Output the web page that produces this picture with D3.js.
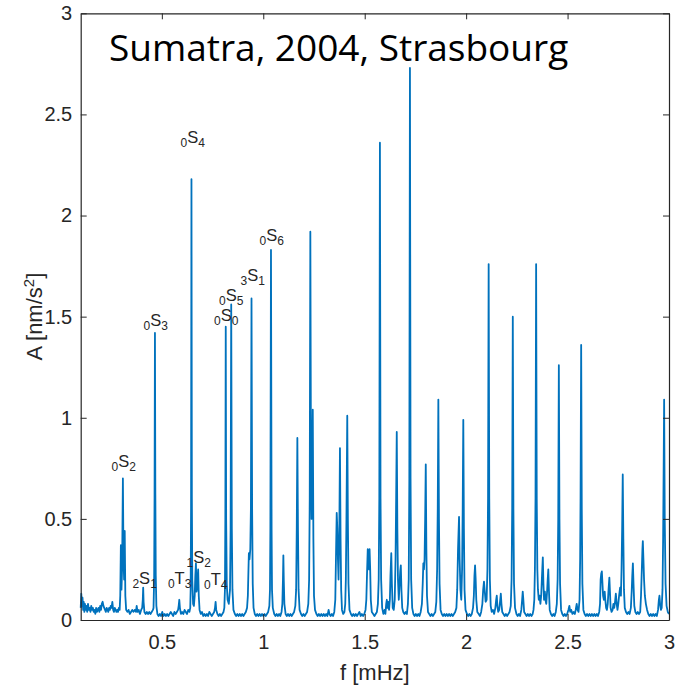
<!DOCTYPE html>
<html>
<head>
<meta charset="utf-8">
<script src="https://cdn.jsdelivr.net/npm/d3@7"></script>
<style>
  html, body { margin: 0; padding: 0; background: #ffffff; }
  svg { display: block; }
</style>
</head>
<body>
<svg id="chart" width="675" height="685"></svg>
<script>
// ---------- DATA ----------
const titleText = "Sumatra, 2004, Strasbourg";
const xLabel = "f [mHz]";
const xDomain = [0.1, 3];
const yDomain = [0, 3];
const xTicks = [0.5, 1, 1.5, 2, 2.5, 3];
const xTickLabels = ["0.5", "1", "1.5", "2", "2.5", "3"];
const yTicks = [0, 0.5, 1, 1.5, 2, 2.5, 3];
const yTickLabels = ["0", "0.5", "1", "1.5", "2", "2.5", "3"];

// spectrum: [frequency mHz, amplitude nm/s^2]
const spectrumLow = [
  [0.100,0.06],[0.103,0.13],[0.106,0.07],[0.109,0.11],[0.112,0.05],[0.115,0.09],[0.118,0.04],[0.121,0.08],
  [0.124,0.05],[0.128,0.07],[0.132,0.04],[0.136,0.08],[0.140,0.05],[0.144,0.06],[0.148,0.04],[0.152,0.07],
  [0.156,0.05],[0.160,0.06],[0.164,0.04],[0.168,0.05],[0.172,0.03],[0.176,0.06],[0.180,0.04],[0.184,0.05],
  [0.188,0.06],[0.192,0.04],[0.196,0.07],[0.200,0.05],[0.204,0.08],[0.208,0.09],[0.212,0.07],[0.216,0.06],
  [0.220,0.05],[0.224,0.04],[0.228,0.06],[0.232,0.05],[0.236,0.04],[0.240,0.06],[0.244,0.05],[0.248,0.07],
  [0.252,0.06],[0.256,0.09],[0.260,0.05],[0.264,0.04],[0.268,0.06],[0.272,0.05],[0.276,0.04],[0.280,0.05],
  [0.284,0.04],[0.288,0.06],
  [0.292,0.05],[0.295,0.12],[0.298,0.37],[0.301,0.15],[0.304,0.25],[0.308,0.70],[0.311,0.30],[0.314,0.20],
  [0.317,0.44],[0.320,0.12],[0.324,0.05],
  [0.330,0.04],[0.336,0.05],[0.342,0.03],[0.348,0.04],[0.354,0.05],[0.360,0.04],[0.366,0.05],[0.372,0.04],
  [0.376,0.07],[0.380,0.04],[0.386,0.05],[0.392,0.03],[0.398,0.05],
  [0.403,0.06],[0.406,0.10],[0.408,0.16],[0.410,0.09],[0.414,0.04],[0.420,0.03],[0.426,0.04],[0.432,0.03],
  [0.438,0.04],[0.444,0.03],[0.450,0.04],[0.456,0.05],
  [0.459,0.06],[0.462,0.20],[0.464,0.60],[0.466,1.42],[0.468,0.62],[0.470,0.22],[0.473,0.07],
  [0.478,0.03],[0.484,0.02],[0.490,0.03],[0.496,0.02],[0.502,0.04],[0.508,0.02],[0.514,0.03],[0.520,0.02],
  [0.526,0.03],[0.532,0.02],[0.538,0.03],[0.544,0.04],[0.550,0.03],[0.556,0.02],[0.562,0.04],[0.568,0.03],
  [0.574,0.04],[0.580,0.05],
  [0.583,0.07],[0.586,0.10],[0.589,0.06],[0.594,0.03],[0.600,0.04],[0.606,0.03],[0.612,0.05],[0.618,0.04],
  [0.624,0.03],[0.630,0.05],[0.636,0.04],[0.640,0.06],
  [0.642,0.15],[0.644,0.55],[0.646,2.18],[0.648,0.60],[0.650,0.20],
  [0.654,0.08],[0.658,0.07],[0.662,0.12],[0.665,0.22],[0.668,0.28],[0.671,0.14],[0.674,0.16],[0.677,0.22],
  [0.679,0.25],[0.682,0.12],[0.686,0.05],
  [0.692,0.03],[0.698,0.04],[0.704,0.02],[0.710,0.03],[0.716,0.02],[0.722,0.03],[0.728,0.02],[0.734,0.04],
  [0.740,0.03],[0.746,0.02],[0.752,0.03],[0.758,0.04],
  [0.762,0.06],[0.765,0.09],[0.768,0.05],[0.774,0.03],[0.780,0.02],[0.786,0.03],[0.792,0.02],[0.798,0.03],
  [0.804,0.04],[0.808,0.06],
  [0.811,0.15],[0.813,0.50],[0.815,1.45],[0.817,0.50],[0.820,0.18],[0.824,0.10],
  [0.830,0.08],[0.836,0.15],[0.839,0.45],[0.842,1.56],[0.845,0.45],[0.848,0.15],[0.853,0.05],
  [0.860,0.03],[0.866,0.02],[0.872,0.03],[0.878,0.02],[0.884,0.03],[0.890,0.02],[0.896,0.03],[0.902,0.02],
  [0.908,0.03],[0.914,0.04],[0.920,0.06],
  [0.924,0.12],[0.927,0.25],[0.929,0.33],[0.932,0.30],[0.936,0.35],[0.939,0.55],[0.942,1.59],[0.945,0.55],
  [0.948,0.18],[0.952,0.06],
  [0.958,0.03],[0.964,0.02],[0.970,0.03],[0.976,0.02],[0.982,0.03],[0.988,0.02],[0.994,0.03],[1.000,0.02]
];

const spectrumMid = [
  [1.006,0.03],[1.012,0.02],[1.018,0.03],[1.024,0.04],[1.030,0.07],
  [1.033,0.15],[1.035,0.45],[1.038,1.83],[1.041,0.45],[1.043,0.15],[1.047,0.06],
  [1.054,0.03],[1.060,0.02],[1.066,0.03],[1.072,0.02],[1.078,0.03],[1.084,0.02],[1.090,0.04],
  [1.094,0.08],[1.097,0.20],[1.099,0.32],[1.101,0.20],[1.104,0.08],[1.110,0.03],[1.116,0.02],[1.122,0.03],
  [1.128,0.02],[1.134,0.03],[1.140,0.02],[1.146,0.03],[1.152,0.04],[1.158,0.07],
  [1.162,0.15],[1.165,0.45],[1.168,0.90],[1.171,0.45],[1.174,0.15],[1.179,0.05],
  [1.186,0.03],[1.192,0.02],[1.198,0.03],[1.204,0.02],[1.210,0.03],[1.216,0.04],[1.222,0.08],
  [1.226,0.20],[1.229,0.60],[1.232,1.92],[1.235,0.80],[1.238,0.50],[1.241,0.75],[1.244,1.04],[1.247,0.40],
  [1.250,0.12],[1.255,0.05],
  [1.262,0.03],[1.268,0.02],[1.274,0.03],[1.280,0.02],[1.286,0.03],[1.292,0.02],[1.298,0.03],[1.304,0.02],
  [1.310,0.03],[1.316,0.02],[1.322,0.05],[1.326,0.03],[1.332,0.02],[1.338,0.03],[1.344,0.02],[1.350,0.04],
  [1.355,0.10],[1.359,0.35],[1.362,0.53],[1.365,0.45],[1.368,0.30],[1.371,0.20],[1.375,0.45],[1.378,0.85],
  [1.381,0.40],[1.384,0.15],[1.388,0.05],
  [1.394,0.03],[1.400,0.04],[1.404,0.08],
  [1.407,0.20],[1.410,0.50],[1.414,1.01],[1.417,0.50],[1.420,0.18],[1.425,0.05],
  [1.432,0.03],[1.438,0.02],[1.444,0.03],[1.450,0.02],[1.456,0.03],[1.462,0.02],[1.468,0.03],[1.474,0.04],
  [1.480,0.02],[1.486,0.03],[1.492,0.02],[1.498,0.03],[1.504,0.05],[1.508,0.10],
  [1.512,0.25],[1.515,0.35],[1.518,0.30],[1.521,0.25],[1.524,0.35],[1.527,0.25],[1.530,0.10],[1.535,0.04],
  [1.542,0.03],[1.548,0.02],[1.554,0.03],[1.560,0.04],[1.565,0.08],
  [1.569,0.20],[1.572,0.60],[1.575,2.36],[1.578,0.60],[1.581,0.20],[1.586,0.06],
  [1.592,0.03],[1.598,0.05],[1.602,0.03],[1.606,0.08],[1.609,0.10],[1.612,0.06],[1.616,0.09],[1.620,0.05],
  [1.624,0.10],
  [1.627,0.22],[1.631,0.33],[1.634,0.18],[1.638,0.06],[1.643,0.05],[1.648,0.10],
  [1.652,0.30],[1.655,0.60],[1.658,0.93],[1.661,0.45],[1.664,0.20],[1.668,0.10],[1.672,0.18],[1.675,0.24],
  [1.678,0.27],[1.681,0.15],[1.685,0.06],
  [1.690,0.04],[1.696,0.03],[1.702,0.04],[1.708,0.03],[1.713,0.08],
  [1.717,0.20],[1.720,0.70],[1.723,2.73],[1.726,0.70],[1.729,0.20],[1.734,0.06],
  [1.740,0.03],[1.746,0.02],[1.752,0.03],[1.758,0.02],[1.764,0.03],[1.770,0.02],[1.776,0.04],[1.782,0.08],
  [1.786,0.18],[1.789,0.28],[1.792,0.25],[1.795,0.30],[1.798,0.50],[1.801,0.77],[1.804,0.35],[1.807,0.12],
  [1.812,0.04],
  [1.818,0.03],[1.824,0.02],[1.830,0.03],[1.836,0.02],[1.842,0.03],[1.848,0.04],[1.853,0.09],
  [1.857,0.25],[1.860,0.55],[1.863,1.09],[1.866,0.50],[1.869,0.18],[1.874,0.05],
  [1.880,0.03],[1.886,0.02],[1.892,0.03],[1.898,0.02],[1.904,0.03],[1.910,0.02],[1.916,0.03],[1.922,0.02],
  [1.928,0.03],[1.934,0.02],[1.940,0.03],[1.946,0.04],[1.952,0.06],
  [1.956,0.15],[1.960,0.35],[1.965,0.51],[1.968,0.30],[1.972,0.15],[1.976,0.10],[1.980,0.25],[1.983,0.55],
  [1.986,0.99],[1.989,0.45],[1.992,0.15],[1.997,0.05]
];

const spectrumHigh = [
  [2.004,0.03],[2.010,0.02],[2.016,0.03],[2.022,0.02],[2.028,0.03],[2.034,0.06],
  [2.038,0.12],[2.041,0.22],[2.044,0.27],[2.047,0.20],[2.050,0.10],[2.055,0.04],
  [2.062,0.03],[2.068,0.02],[2.074,0.04],[2.080,0.08],[2.084,0.15],[2.088,0.19],[2.092,0.14],[2.096,0.09],
  [2.101,0.10],[2.105,0.25],[2.108,0.60],[2.111,1.76],[2.114,0.60],[2.117,0.20],[2.121,0.07],
  [2.126,0.04],[2.132,0.05],[2.138,0.03],[2.144,0.06],[2.148,0.10],[2.151,0.12],[2.154,0.07],[2.158,0.04],
  [2.163,0.05],[2.167,0.09],[2.171,0.13],[2.174,0.08],[2.178,0.04],[2.184,0.03],[2.190,0.02],[2.196,0.03],
  [2.202,0.02],[2.208,0.03],[2.214,0.04],[2.220,0.07],
  [2.224,0.20],[2.227,0.55],[2.230,1.50],[2.233,0.55],[2.236,0.18],[2.241,0.06],
  [2.248,0.03],[2.254,0.02],[2.260,0.03],[2.266,0.02],[2.272,0.05],[2.276,0.10],[2.279,0.14],[2.282,0.10],
  [2.286,0.04],[2.292,0.03],[2.298,0.02],[2.304,0.03],[2.310,0.02],[2.316,0.03],[2.322,0.02],[2.328,0.03],
  [2.332,0.05],
  [2.336,0.10],[2.339,0.25],[2.342,0.60],[2.345,1.76],[2.348,0.60],[2.351,0.25],[2.354,0.15],
  [2.358,0.10],[2.362,0.12],[2.366,0.08],[2.370,0.12],[2.374,0.22],[2.378,0.31],[2.381,0.18],[2.384,0.10],
  [2.388,0.14],[2.391,0.10],[2.395,0.08],[2.399,0.14],[2.402,0.20],[2.405,0.25],[2.408,0.15],[2.412,0.05],
  [2.418,0.03],[2.424,0.02],[2.430,0.03],[2.436,0.02],[2.442,0.04],[2.447,0.08],
  [2.451,0.20],[2.454,0.50],[2.457,1.26],[2.460,0.50],[2.463,0.18],[2.468,0.05],
  [2.474,0.03],[2.480,0.02],[2.486,0.03],[2.492,0.02],[2.498,0.03],[2.504,0.05],[2.509,0.07],[2.513,0.04],
  [2.518,0.05],[2.524,0.03],[2.530,0.04],[2.536,0.03],[2.540,0.05],[2.545,0.08],[2.549,0.05],[2.554,0.04],
  [2.559,0.10],
  [2.562,0.30],[2.564,0.60],[2.567,1.36],[2.570,0.55],[2.573,0.18],[2.578,0.05],
  [2.584,0.03],[2.590,0.02],[2.596,0.03],[2.602,0.02],[2.608,0.03],[2.614,0.02],[2.620,0.03],[2.626,0.02],
  [2.632,0.03],[2.638,0.02],[2.644,0.03],[2.650,0.02],[2.656,0.04],[2.660,0.08],
  [2.663,0.20],[2.666,0.23],[2.669,0.24],[2.672,0.18],[2.675,0.12],[2.679,0.10],[2.683,0.14],[2.686,0.10],
  [2.690,0.06],[2.694,0.05],[2.698,0.08],[2.702,0.15],[2.706,0.21],[2.709,0.14],[2.712,0.06],[2.717,0.04],
  [2.722,0.05],[2.726,0.08],[2.730,0.06],[2.734,0.09],[2.738,0.13],[2.742,0.08],[2.746,0.05],[2.750,0.08],
  [2.754,0.12],[2.759,0.16],[2.763,0.12],[2.766,0.25],[2.769,0.45],[2.772,0.72],[2.775,0.40],[2.778,0.15],
  [2.782,0.06],
  [2.788,0.04],[2.794,0.03],[2.800,0.04],[2.806,0.03],[2.812,0.06],[2.816,0.14],[2.819,0.22],[2.822,0.28],
  [2.825,0.18],[2.829,0.07],[2.834,0.04],[2.840,0.03],[2.846,0.04],[2.852,0.03],[2.858,0.04],[2.862,0.12],
  [2.866,0.25],[2.869,0.35],[2.871,0.39],[2.874,0.30],[2.877,0.20],[2.881,0.12],[2.886,0.08],[2.892,0.05],
  [2.898,0.03],[2.904,0.02],[2.910,0.03],[2.916,0.02],[2.922,0.03],[2.928,0.02],[2.934,0.03],[2.940,0.02],
  [2.946,0.05],[2.950,0.10],[2.953,0.12],[2.956,0.08],[2.960,0.05],[2.964,0.06],[2.968,0.15],[2.971,0.40],
  [2.974,0.80],[2.976,1.09],[2.979,0.50],[2.983,0.18],[2.988,0.07],[2.994,0.04],[3.000,0.03]
];

// mode labels: left subscript, letter, right subscript, anchor (f, A) of label start / letter baseline
const modePre   = ["0", "2", "0", "0", "0", "1", "0", "0", "0", "3", "0"];
const modeMain  = ["S", "S", "S", "T", "S", "S", "T", "S", "S", "S", "S"];
const modePost  = ["2", "1", "3", "3", "4", "2", "4", "0", "5", "1", "6"];
const modeF     = [0.252, 0.355, 0.410, 0.530, 0.592, 0.622, 0.708, 0.757, 0.782, 0.888, 0.982];
const modeA     = [0.757, 0.178, 1.454, 0.178, 2.359, 0.282, 0.173, 1.479, 1.578, 1.677, 1.874];

// ---------- CHART ----------
const svg = d3.select("#chart");
const inkColor = "#262626";
const lineColor = "#0072BD";
const tickFont = "'Liberation Sans', Arial, Helvetica, sans-serif";

const x = d3.scaleLinear().domain(xDomain).range([80.7, 669]);
const y = d3.scaleLinear().domain(yDomain).range([620, 13.3]);

const spectrum = spectrumLow.concat(spectrumMid, spectrumHigh);

const line = d3.line().x(d => x(d[0])).y(d => y(d[1]));

svg.append("path")
  .datum(spectrum)
  .attr("fill", "none")
  .attr("stroke", lineColor)
  .attr("stroke-width", 1.8)
  .attr("stroke-linejoin", "round")
  .attr("d", line);

// axes
function styleAxis(g) {
  g.select(".domain").attr("stroke", inkColor).attr("stroke-width", 1.2);
  g.selectAll(".tick line").attr("stroke", inkColor).attr("stroke-width", 1);
  g.selectAll(".tick text").attr("fill", inkColor).style("font-family", tickFont).style("font-size", "20px");
}

svg.append("g")
  .attr("transform", `translate(0,${y(0)})`)
  .call(d3.axisBottom(x).tickValues(xTicks).tickFormat((d, i) => xTickLabels[i])
    .tickSizeInner(-6).tickSizeOuter(0).tickPadding(15))
  .call(styleAxis);

svg.append("g")
  .attr("transform", `translate(0,${y(3)})`)
  .call(d3.axisTop(x).tickValues(xTicks).tickFormat(() => "")
    .tickSizeInner(-6).tickSizeOuter(0))
  .call(styleAxis);

svg.append("g")
  .attr("transform", `translate(${x(xDomain[0])},0)`)
  .call(d3.axisLeft(y).tickValues(yTicks).tickFormat((d, i) => yTickLabels[i])
    .tickSizeInner(-6).tickSizeOuter(0).tickPadding(8.5))
  .call(styleAxis);

svg.append("g")
  .attr("transform", `translate(${x(xDomain[1])},0)`)
  .call(d3.axisRight(y).tickValues(yTicks).tickFormat(() => "")
    .tickSizeInner(-6).tickSizeOuter(0))
  .call(styleAxis);

svg.selectAll(".domain").attr("fill", "none");

// axis labels
svg.append("text")
  .attr("x", (x.range()[0] + x.range()[1]) / 2)
  .attr("y", 680)
  .attr("text-anchor", "middle")
  .attr("fill", inkColor)
  .style("font-family", tickFont)
  .style("font-size", "22px")
  .text(xLabel);

const yl = svg.append("text")
  .attr("transform", `translate(42,${(y.range()[0] + y.range()[1]) / 2}) rotate(-90)`)
  .attr("text-anchor", "middle")
  .attr("fill", inkColor)
  .style("font-family", tickFont)
  .style("font-size", "22px");
yl.append("tspan").text("A [nm/s");
yl.append("tspan").attr("dy", -8).style("font-size", "15px").text("2");
yl.append("tspan").attr("dy", 8).text("]");

// title
svg.append("text")
  .attr("x", 109)
  .attr("y", 61)
  .attr("fill", "#000000")
  .style("font-family", "'Open Sans', 'Noto Sans', sans-serif")
  .style("font-size", "37px")
  .text(titleText);

// mode annotations
modeMain.forEach((m, i) => {
  const t = svg.append("text")
    .attr("x", x(modeF[i]))
    .attr("y", y(modeA[i]))
    .attr("fill", inkColor)
    .style("font-family", tickFont);
  t.append("tspan").attr("dy", 4).style("font-size", "12px").text(modePre[i]);
  t.append("tspan").attr("dy", -4).style("font-size", "16.5px").text(m);
  t.append("tspan").attr("dy", 4).style("font-size", "12px").text(modePost[i]);
});
</script>
</body>
</html>
